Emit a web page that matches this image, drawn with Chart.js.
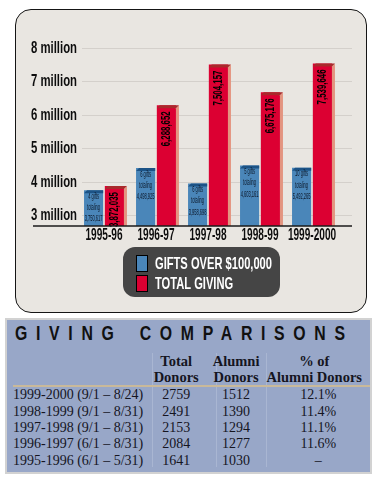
<!DOCTYPE html>
<html>
<head>
<meta charset="utf-8">
<script src="https://cdn.jsdelivr.net/npm/chart.js@4.4.0/dist/chart.umd.min.js"></script>
<style>
  body { margin: 0; width: 382px; height: 478px; background: #fff; position: relative; overflow: hidden; }
  #panel { position: absolute; left: 15px; top: 9px; width: 352px; height: 304px; box-sizing: border-box;
           background: #e9e6e1; border: 1.5px solid #151515; border-radius: 16px; }
  #chart { position: absolute; left: 15px; top: 9px; }
  #tbl { position: absolute; left: 5px; top: 318px; width: 367px; height: 156px; box-sizing: border-box;
         background: #98a7c8; border: 2px solid #d2d2d2; font-family: "Liberation Serif", "DejaVu Serif", serif; color: #15151f; }
  #tbl .title { position: absolute; left: 8px; top: 1px; font: bold 21px "Liberation Sans", Arial, sans-serif;
                letter-spacing: 11.5px; word-spacing: 5.5px; color: #111; white-space: nowrap; transform-origin: 0 0; }
  #tbl table { position: absolute; left: 6px; top: 33px; border-collapse: collapse; table-layout: fixed; font-size: 14px; }
  #tbl th { font-weight: bold; font-size: 14.5px; line-height: 16px; height: 31px; padding: 0; text-align: center; vertical-align: middle;
            border-bottom: 2px solid #c9b99a; white-space: nowrap; }
  #tbl th:last-child { padding-right: 8px; }
  #tbl td { height: 16.4px; line-height: 16px; padding: 0; text-align: center; white-space: nowrap; }
  #tbl td:first-child { text-align: left; }
  .vline { position: absolute; top: 33px; width: 1px; height: 114px; background: #a9b6d2; }
</style>
</head>
<body>
<div id="panel"></div>
<canvas id="chart" width="352" height="304"></canvas>
<div id="tbl">
  <span class="title" id="title">GIVING COMPARISONS</span>
  <div class="vline" style="left:145px"></div>
  <div class="vline" style="left:209px"></div>
  <div class="vline" style="left:259px"></div>
  <table id="donors">
    <colgroup><col style="width:135px"><col style="width:64px"><col style="width:66px"><col style="width:90px"></colgroup>
    <thead></thead>
    <tbody></tbody>
  </table>
</div>
<script>
// bar chart data (millions)
const seasons = ['1995-96', '1996-97', '1997-98', '1998-99', '1999-2000'];
const giftsOver100k = [3.75, 4.41, 3.95, 4.49, 4.42];
const totalGiving = [3.872035, 6.288652, 7.504157, 6.675176, 7.539646];
const giftCounts = ['4 gifts', '6 gifts', '6 gifts', '5 gifts', '10 gifts'];
const giftTotals = ['3,750,617', '4,498,925', '3,958,698', '4,603,161', '5,492,265'];
const givingLabels = ['3,872,035', '6,288,652', '7,504,157', '6,675,176', '7,539,646'];
const yTicks = [3, 4, 5, 6, 7, 8];
const yTickLabels = ['3 million', '4 million', '5 million', '6 million', '7 million', '8 million'];
const seriesNames = ['GIFTS OVER $100,000', 'TOTAL GIVING'];

// table data
const tableHeads = [['', ''], ['Total', 'Donors'], ['Alumni', 'Donors'], ['% of', 'Alumni Donors']];
const periods = ['1999-2000 (9/1 \u2013 8/24)', '1998-1999 (9/1 \u2013 8/31)', '1997-1998 (9/1 \u2013 8/31)',
                 '1996-1997 (6/1 \u2013 8/31)', '1995-1996 (6/1 \u2013 5/31)'];
const totalDonors = [2759, 2491, 2153, 2084, 1641];
const alumniDonors = [1512, 1390, 1294, 1277, 1030];
const alumniPct = ['12.1%', '11.4%', '11.1%', '11.6%', '\u2013'];

const SANS = '"Liberation Sans", Arial, sans-serif';

// table
const thead = document.querySelector('#donors thead');
thead.innerHTML = '<tr>' + tableHeads.map(h => `<th>${h[0]}<br>${h[1]}</th>`).join('') + '</tr>';
const tbody = document.querySelector('#donors tbody');
periods.forEach((p, i) => {
  const tr = document.createElement('tr');
  [p, totalDonors[i], alumniDonors[i], alumniPct[i]].forEach(v => {
    const td = document.createElement('td');
    td.textContent = v;
    tr.appendChild(td);
  });
  tbody.appendChild(tr);
});
// squeeze the spaced title into its width
const title = document.getElementById('title');
const tw = title.getBoundingClientRect().width - 11.5;
title.style.transform = `scaleX(${330 / tw})`;

function squeezeText(ctx, text, x, y, sx) {
  ctx.save();
  ctx.translate(x, y);
  ctx.scale(sx, 1);
  ctx.fillText(text, 0, 0);
  ctx.restore();
}

const gridLines = {
  id: 'gridLines',
  beforeDatasetsDraw(chart) {
    const { ctx, chartArea, scales } = chart;
    ctx.save();
    ctx.strokeStyle = '#d4d0cb';
    ctx.lineWidth = 1;
    yTicks.forEach(v => {
      const py = Math.round(scales.y.getPixelForValue(v)) + 0.5;
      ctx.beginPath();
      ctx.moveTo(chartArea.left + 4, py);
      ctx.lineTo(chartArea.right + 14, py);
      ctx.stroke();
    });
    ctx.restore();
  }
};

// condensed axis labels, placed by the chart's scales
const axisLabels = {
  id: 'axisLabels',
  afterDraw(chart) {
    const { ctx, chartArea, scales } = chart;
    ctx.save();
    ctx.fillStyle = '#0d0d0d';
    ctx.textBaseline = 'middle';
    ctx.font = 'bold 16px ' + SANS;
    ctx.textAlign = 'right';
    const sy = 46 / ctx.measureText(yTickLabels[5]).width;
    yTicks.forEach((v, i) => {
      squeezeText(ctx, yTickLabels[i], chartArea.left - 1, scales.y.getPixelForValue(v) + 0.5, sy);
    });
    ctx.textAlign = 'center';
    const sx = 37 / ctx.measureText(seasons[0]).width;
    seasons.forEach((s, i) => {
      squeezeText(ctx, s, scales.x.getPixelForValue(i), chartArea.bottom + 10, sx);
    });
    ctx.restore();
  }
};

const bars3d = {
  id: 'bars3d',
  afterDatasetsDraw(chart) {
    const { ctx, chartArea } = chart;
    chart.data.datasets.forEach((ds, di) => {
      chart.getDatasetMeta(di).data.forEach((bar, i) => {
        const x0 = bar.x - bar.width / 2, x1 = bar.x + bar.width / 2, y = bar.y, d = 3;
        const b = Math.min(bar.base, chartArea.bottom);
        ctx.save();
        if (ds.sideColor) {
          ctx.fillStyle = ds.sideColor;
          ctx.beginPath();
          ctx.moveTo(x1, y + d); ctx.lineTo(x1 + d, y); ctx.lineTo(x1 + d, b); ctx.lineTo(x1, b);
          ctx.closePath(); ctx.fill();
        }
        ctx.fillStyle = ds.topColor;
        ctx.beginPath();
        ctx.moveTo(x0, y + d); ctx.lineTo(x0 + d, y);
        ctx.lineTo(ds.sideColor ? x1 + d : x1, y); ctx.lineTo(x1, y + d);
        ctx.closePath(); ctx.fill();

        if (di === 1) {
          ctx.fillStyle = '#000';
          ctx.font = 'bold 13px ' + SANS;
          ctx.textAlign = 'right';
          ctx.textBaseline = 'middle';
          const s = 35 / ctx.measureText(givingLabels[1]).width;
          ctx.translate(bar.x, y + 6);
          ctx.rotate(-Math.PI / 2);
          ctx.scale(s, 1);
          ctx.fillText(givingLabels[i], 0, 0);
        } else {
          ctx.font = '9px ' + SANS;
          ctx.textAlign = 'center';
          ctx.textBaseline = 'middle';
          ctx.fillStyle = '#0e1a2c';
          const s = 13 / ctx.measureText('totaling').width;
          [giftCounts[i], 'totaling', giftTotals[i]].forEach((t, k) => {
            squeezeText(ctx, t, bar.x, y + 6 + k * 11.3, s);
          });
        }
        ctx.restore();
      });
    });
    // baseline
    ctx.save();
    ctx.strokeStyle = '#1a1a1a';
    ctx.lineWidth = 1.5;
    ctx.beginPath();
    ctx.moveTo(18, chartArea.bottom);
    ctx.lineTo(chartArea.right + 14, chartArea.bottom);
    ctx.stroke();
    ctx.restore();
  }
};

const boxLegend = {
  id: 'boxLegend',
  afterDraw(chart) {
    const ctx = chart.ctx;
    ctx.save();
    ctx.fillStyle = '#454545';
    ctx.beginPath();
    ctx.roundRect(108, 238, 157, 50, 12);
    ctx.fill();
    ctx.font = 'bold 17px ' + SANS;
    ctx.textBaseline = 'middle';
    ctx.textAlign = 'left';
    const sx = 117 / ctx.measureText(seriesNames[0]).width;
    chart.data.datasets.forEach((ds, i) => {
      const sy = 246 + i * 20;
      ctx.fillStyle = ds.backgroundColor;
      ctx.fillRect(121.5, sy + 0.5, 11, 16);
      ctx.strokeStyle = '#000';
      ctx.lineWidth = 1;
      ctx.strokeRect(121.5, sy + 0.5, 11, 16);
      ctx.fillStyle = '#fff';
      squeezeText(ctx, ds.label, 140, sy + 9, sx);
    });
    ctx.restore();
  }
};

new Chart(document.getElementById('chart'), {
  type: 'bar',
  data: {
    labels: seasons,
    datasets: [
      { label: seriesNames[0], data: giftsOver100k, backgroundColor: '#4a86b9', topColor: '#1c5386',
        borderWidth: 0, categoryPercentage: 0.8, barPercentage: 0.92 },
      { label: seriesNames[1], data: totalGiving, backgroundColor: '#dc0032', topColor: '#a82a2c', sideColor: '#e39580',
        borderWidth: 0, categoryPercentage: 0.8, barPercentage: 0.92 },
    ],
  },
  options: {
    responsive: false,
    animation: false,
    layout: { padding: { top: 39, right: 29, left: 0, bottom: 0 } },
    plugins: { legend: { display: false }, tooltip: { enabled: false } },
    scales: {
      x: {
        grid: { display: false },
        border: { display: false },
        ticks: { display: false },
        afterFit: s => { s.height = 87; },
      },
      y: {
        min: 2.68,
        max: 8,
        grid: { display: false },
        border: { display: false },
        afterBuildTicks: s => { s.ticks = yTicks.map(v => ({ value: v })); },
        ticks: { display: false },
        afterFit: s => { s.width = 63; },
      },
    },
  },
  plugins: [gridLines, bars3d, axisLabels, boxLegend],
});
</script>
</body>
</html>
